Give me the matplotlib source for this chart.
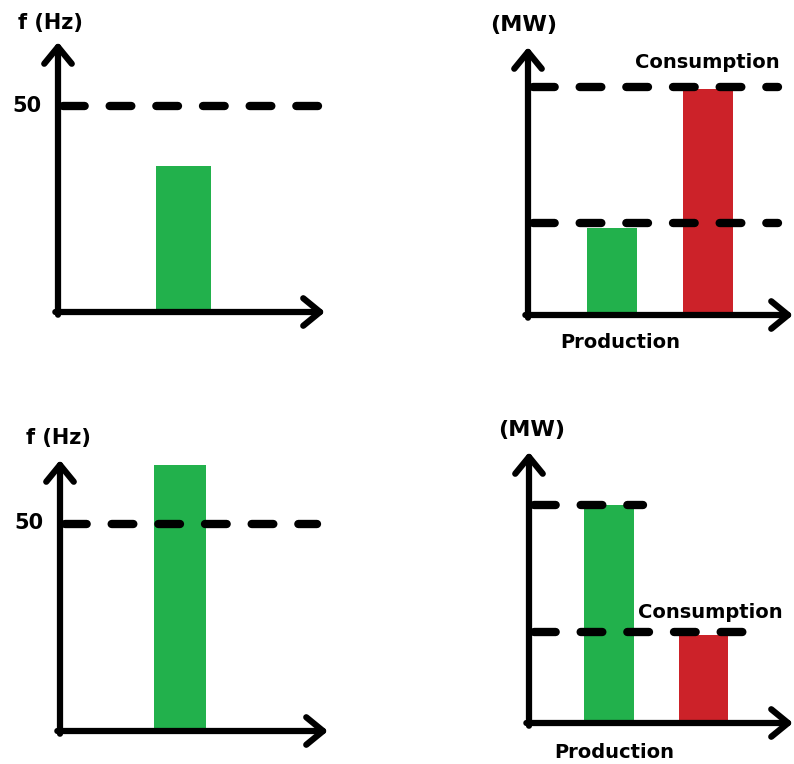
import matplotlib.pyplot as plt

W, H = 794, 764

# frequency panels (Hz)
f_nominal = 50
f_low_bar = 35.4      # top-left: frequency dropped
f_high_bar = 64.4     # bottom-left: frequency rose
f_top = 65.5

# power panels (MW)
mw_labels = ['Production', 'Consumption']
mw_deficit = [38, 99]        # top-right: production < consumption
mw_deficit_lines = [40.4, 100]
mw_surplus = [95.6, 38.6]    # bottom-right: production > consumption
mw_surplus_lines = [95.6, 40]
mw_top = [117.5, 118.9]

green = '#22b14c'
red = '#cc2229'

fig = plt.figure(figsize=(W / 100, H / 100), dpi=100)


def make_axes(x0, y0, x1, y1, ytop):
    # x0,y0 = origin in pixels, x1 = x arrow tip, y1 = y arrow tip
    ax = fig.add_axes([x0 / W, 1 - y0 / H, (x1 - x0) / W, (y0 - y1) / H])
    ax.set_xlim(0, 10)
    ax.set_ylim(0, ytop)
    ax.axis('off')
    arrow = dict(arrowstyle='->,head_length=0.55,head_width=0.45', lw=4.5,
                 color='black', mutation_scale=22, shrinkA=0, shrinkB=0,
                 capstyle='round', joinstyle='round')
    ax.annotate('', xy=(0, 1), xytext=(0, -0.01), xycoords='axes fraction',
                arrowprops=arrow, annotation_clip=False)
    ax.annotate('', xy=(1, 0), xytext=(-0.01, 0), xycoords='axes fraction',
                arrowprops=arrow, annotation_clip=False)
    return ax


def dashed(ax, level, xend):
    ax.plot([0.2, xend], [level, level], color='black', lw=6,
            dashes=(2.6, 3.0), dash_capstyle='round', zorder=3)


def label(x, y, s, size=15):
    fig.text(x / W, 1 - y / H, s, fontsize=size, fontweight='bold',
             ha='center', va='center', family='DejaVu Sans')


# top-left
ax1 = make_axes(58, 312, 325, 42, f_top)
ax1.bar([4.70], [f_low_bar], width=2.06, color=green, zorder=1)
dashed(ax1, f_nominal, 9.81)
label(50, 23, 'f (Hz)')
label(27, 106, str(f_nominal))

# top-right
ax2 = make_axes(528, 315, 793, 47, mw_top[0])
ax2.bar([3.17, 6.79], mw_deficit, width=1.89, color=[green, red], zorder=1)
dashed(ax2, mw_deficit_lines[0], 9.43)
dashed(ax2, mw_deficit_lines[1], 9.43)
label(524, 25, '(MW)', 16)
label(707, 63, mw_labels[1], 14)
label(620, 342, mw_labels[0], 14)

# bottom-left
ax3 = make_axes(60, 731, 328, 460, f_top)
ax3.bar([4.48], [f_high_bar], width=1.94, color=green, zorder=1)
dashed(ax3, f_nominal, 9.59)
label(58, 438, 'f (Hz)')
label(29, 523, str(f_nominal))

# bottom-right
ax4 = make_axes(529, 723, 793, 452, mw_top[1])
ax4.bar([3.03, 6.61], mw_surplus, width=1.88, color=[green, red], zorder=1)
dashed(ax4, mw_surplus_lines[0], 4.32)
dashed(ax4, mw_surplus_lines[1], 8.86)
label(532, 430, '(MW)', 16)
label(710, 612, mw_labels[1], 14)
label(614, 752, mw_labels[0], 14)

fig.savefig('out.png', dpi=100)
